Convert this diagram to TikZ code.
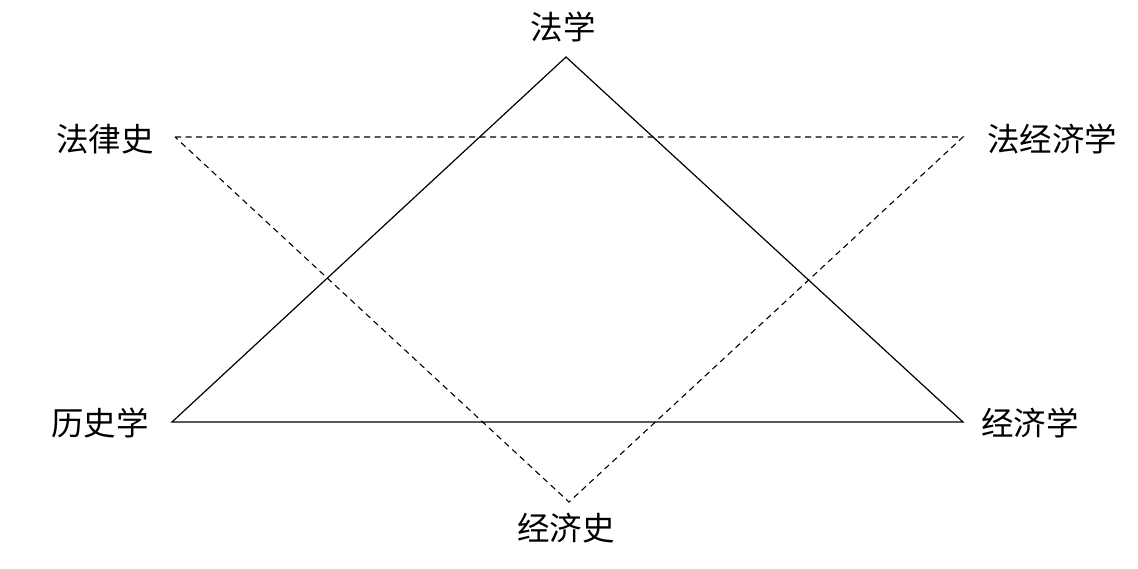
\documentclass[tikz,border=0pt]{standalone}
\usepackage{fontspec}
\newfontfamily\cjk{Noto Sans CJK SC}
\begin{document}
\begin{tikzpicture}[x=1pt,y=-1pt,
  lbl/.style={font=\cjk\fontsize{32.5}{32.5}\selectfont, inner sep=0pt, anchor=center},
  solidline/.style={line width=1.2pt, black},
  dashline/.style={line width=1.1pt, black, dash pattern=on 6pt off 4.5pt}]
\useasboundingbox (0,0) rectangle (1138,568);
% solid triangle
\coordinate (A) at (566,57);
\coordinate (B) at (172,422);
\coordinate (C) at (963,422);
% dashed triangle
\coordinate (D) at (175,137);
\coordinate (E) at (963,137);
\coordinate (F) at (569,502);
\draw[solidline] (A) -- (B) -- (C) -- cycle;
\draw[dashline] (D) -- (E) -- (F) -- cycle;
\node[lbl] (law) at (563,27) {法学};
\node[lbl] (lawhist) at (105,139) {法律史};
\node[lbl] (lawecon) at (1052,139) {法经济学};
\node[lbl] (hist) at (100,423) {历史学};
\node[lbl] (econ) at (1030,423) {经济学};
\node[lbl] (econhist) at (566,528) {经济史};
\end{tikzpicture}
\end{document}
